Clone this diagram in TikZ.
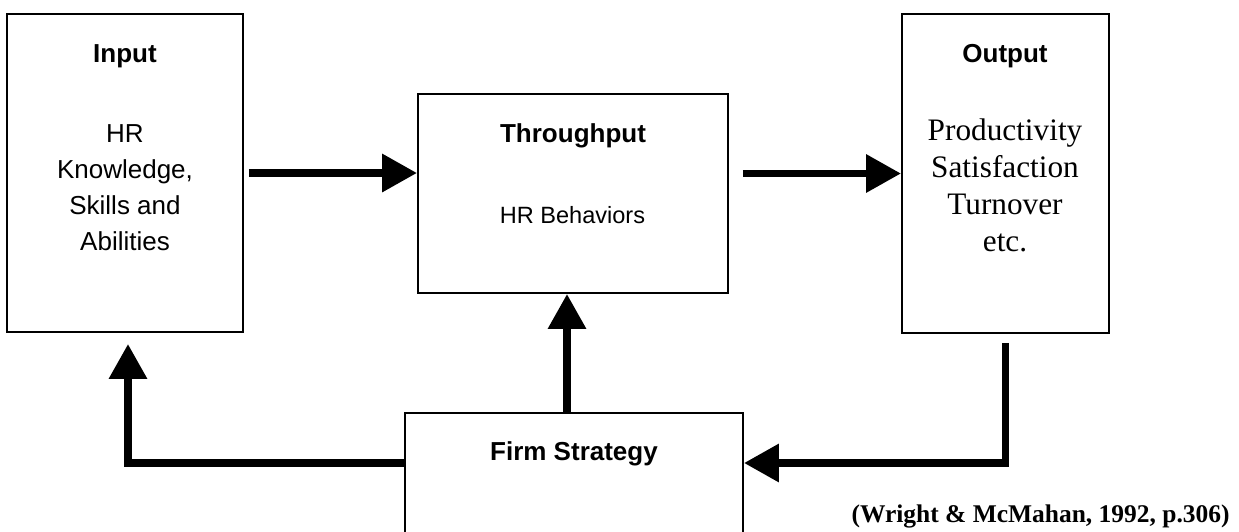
\documentclass[tikz,border=0pt]{standalone}
\usepackage{fontspec}
\setmainfont{Liberation Serif}
\setsansfont{Liberation Sans}
\usetikzlibrary{arrows.meta}

\begin{document}
\begin{tikzpicture}[x=0.02cm, y=-0.02cm,
    box/.style={draw, line width=1.1pt, inner sep=0pt},
    flow/.style={line width=4.5pt, -{Triangle[length=0.7cm,width=0.73cm]}},
    boxtitle/.style={anchor=base, inner sep=0pt,
      font=\sffamily\bfseries\fontsize{14.8}{18}\selectfont},
    boxtext/.style={anchor=north, inner sep=0pt, align=center,
      font=\sffamily\fontsize{14.8}{20.5}\selectfont},
    listtext/.style={anchor=north, inner sep=0pt, align=center,
      font=\rmfamily\fontsize{17.8}{21}\selectfont},
    sourcetext/.style={anchor=base east, inner sep=0pt,
      font=\rmfamily\bfseries\fontsize{14.5}{17}\selectfont}]
  \useasboundingbox (0,0) rectangle (1239,531);
  \clip (0,0) rectangle (1239,531);

  % the four blocks
  \node[box, minimum width=4.72cm, minimum height=6.36cm] (input) at (125,173) {};
  \node[box, minimum width=6.2cm, minimum height=3.98cm] (thru) at (573,193.5) {};
  \node[box, minimum width=4.14cm, minimum height=6.38cm] (output) at (1005.5,173.5) {};
  \node[box, minimum width=6.76cm, minimum height=2.94cm] (strategy) at (574,486.5) {};

  % texts
  \node[boxtitle] (input-title) at (125,62) {Input};
  \node[boxtext] (input-text) at (125,124.4) {HR\\Knowledge,\\Skills and\\Abilities};
  \node[boxtitle] (thru-title) at (573,142) {Throughput};
  \node[boxtitle, font=\sffamily\fontsize{13.4}{16}\selectfont] (thru-text) at (572.5,223) {HR Behaviors};
  \node[boxtitle] (output-title) at (1005,62) {Output};
  \node[listtext] (output-text) at (1005,118.6) {Productivity\\Satisfaction\\Turnover\\etc.};
  \node[boxtitle] (strategy-title) at (574,460) {Firm Strategy};
  \node[sourcetext] (source) at (1230,522) {(Wright \& McMahan, 1992, p.306)};

  % arrows
  \coordinate (fb) at (0,463);
  \draw[flow, shorten <=0.1cm] (input.east) -- (input.east -| thru.west);
  \draw[flow, shorten <=0.28cm] (thru.east |- output.west) -- (output.west);
  \draw[flow] ([xshift=-0.12cm]thru.south |- strategy.north) -- ([xshift=-0.12cm]thru.south);
  \draw[flow, shorten >=0.22cm] (strategy.west |- fb) -| ([xshift=0.06cm]input.south);
  \draw[flow, shorten <=0.18cm] (output.south) |- (strategy.east |- fb);
\end{tikzpicture}
\end{document}
